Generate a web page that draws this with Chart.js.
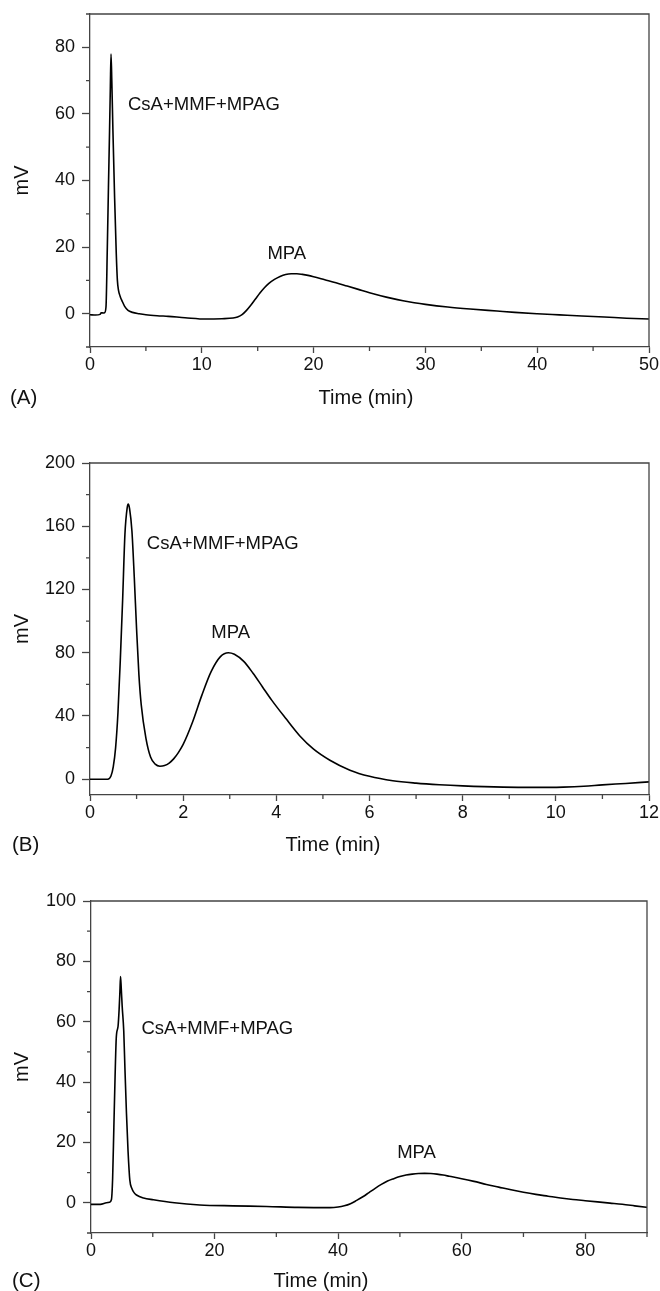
<!DOCTYPE html>
<html>
<head>
<meta charset="utf-8">
<script src="https://cdn.jsdelivr.net/npm/chart.js@4.4.1/dist/chart.umd.min.js"></script>
<style>
  html, body { margin: 0; padding: 0; background: #fff; }
  body { width: 660px; height: 1291px; position: relative; overflow: hidden; }
  canvas { position: absolute; left: 0; }
</style>
</head>
<body>
<canvas id="panelA" width="660" height="420" style="top:0px"></canvas>
<canvas id="panelB" width="660" height="440" style="top:420px"></canvas>
<canvas id="panelC" width="660" height="431" style="top:860px"></canvas>
<script>
// Painel A - corrida de 50 min
const timeA = [0, 0.5, 0.9, 1.0, 1.2, 1.3, 1.43, 1.55, 1.65, 1.75, 1.82, 1.88, 1.95, 2.05, 2.2, 2.35, 2.45, 2.55, 2.7, 2.9, 3.1, 3.4, 3.8, 4.4, 5.0, 6.0, 7.0, 8.5, 10.4, 11.8, 12.8, 13.2, 13.6, 14.0, 14.4, 14.8, 15.2, 15.6, 16.0, 16.5, 17.0, 17.5, 18.0, 18.5, 19.0, 19.5, 20.0, 21.0, 22.0, 23.0, 24.0, 25.0, 26.0, 27.0, 28.0, 29.0, 30.0, 32.0, 34.0, 36.4, 38.0, 40.0, 42.0, 44.0, 46.0, 48.0, 50.0];
const mvA = [-0.3, -0.4, -0.2, 0.3, 0.2, 0.3, 2, 20, 38, 55, 68, 78, 70, 55, 35, 18, 10, 7, 5.2, 3.6, 2.2, 1.0, 0.4, 0, -0.3, -0.6, -0.8, -1.2, -1.6, -1.5, -1.3, -1.0, -0.3, 1.0, 2.6, 4.4, 6.2, 7.8, 9.1, 10.3, 11.2, 11.8, 12.0, 12.0, 11.8, 11.5, 11.1, 10.2, 9.3, 8.3, 7.3, 6.3, 5.4, 4.6, 3.9, 3.3, 2.8, 2.0, 1.4, 0.8, 0.4, 0, -0.35, -0.7, -1.0, -1.35, -1.6];
const xTicksA = [0, 10, 20, 30, 40, 50];
const xMinorA = [5, 15, 25, 35, 45];
const yTicksA = [0, 20, 40, 60, 80];
const yMinorA = [-10, 10, 30, 50, 70, 90];

// Painel B - corrida de 12 min
const timeB = [0, 0.3, 0.38, 0.45, 0.5, 0.55, 0.6, 0.65, 0.7, 0.75, 0.8, 0.82, 0.85, 0.9, 0.95, 1.0, 1.05, 1.1, 1.2, 1.3, 1.4, 1.5, 1.6, 1.7, 1.8, 1.9, 2.0, 2.2, 2.4, 2.6, 2.8, 2.97, 3.1, 3.3, 3.5, 3.7, 3.9, 4.2, 4.5, 4.8, 5.15, 5.58, 6.0, 6.5, 7.0, 7.5, 8.0, 8.87, 9.5, 10.16, 10.6, 11.0, 11.5, 12.0];
const mvB = [0, 0, 0, 2, 8, 20, 42, 75, 113, 155, 172, 174, 171, 157, 128, 95, 66, 47, 26, 14, 9.5, 8.2, 8.6, 10.2, 13, 17, 22, 36, 53, 68, 77.5, 80, 79, 74.5, 67, 58.5, 50, 38.5, 27.5, 19, 12, 5.7, 1.8, -1, -2.5, -3.5, -4.2, -5, -5.2, -5, -4.5, -3.6, -2.7, -1.7];
const xTicksB = [0, 2, 4, 6, 8, 10, 12];
const xMinorB = [1, 3, 5, 7, 9, 11];
const yTicksB = [0, 40, 80, 120, 160, 200];
const yMinorB = [20, 60, 100, 140, 180];

// Painel C - corrida de 90 min
const timeC = [0, 1.5, 2.5, 3.0, 3.3, 3.5, 3.7, 3.9, 4.1, 4.38, 4.55, 4.68, 4.78, 4.9, 5.05, 5.3, 5.5, 5.74, 6.0, 6.28, 6.6, 7.0, 7.36, 8.5, 10.1, 13.5, 17.6, 23, 28.4, 33.5, 38.7, 40, 41, 42, 43, 44, 45, 46, 47, 48, 49, 50, 51, 52, 53, 54, 55, 56, 57, 58, 60, 62, 64, 66, 68, 70, 72, 74, 76, 78, 80, 82, 84, 86, 88, 90];
const mvC = [-0.5, -0.5, 0, 0.2, 1, 8, 25, 42, 55, 58.5, 64, 70, 75, 71, 65, 57, 44, 29.7, 17, 7.6, 4.8, 3.3, 2.6, 1.6, 1.0, 0, -0.7, -1.0, -1.2, -1.5, -1.6, -1.4, -1.0, -0.3, 0.8, 2.0, 3.4, 4.8, 6.1, 7.2, 8.0, 8.7, 9.2, 9.5, 9.7, 9.75, 9.7, 9.5, 9.2, 8.8, 8.0, 7.1, 6.1, 5.2, 4.3, 3.5, 2.8, 2.2, 1.6, 1.1, 0.7, 0.3, -0.1, -0.5, -1.0, -1.5];
const xTicksC = [0, 20, 40, 60, 80];
const xMinorC = [10, 30, 50, 70, 90];
const yTicksC = [0, 20, 40, 60, 80, 100];
const yMinorC = [-10, 10, 30, 50, 70, 90];

// Rotulos dos picos (coordenadas em unidades dos eixos)
const peakLabelsA = [
  { text: "CsA+MMF+MPAG", x: 3.4, y: 62.7, align: "left" },
  { text: "MPA", x: 17.6, y: 18, align: "center" },
];
const peakLabelsB = [
  { text: "CsA+MMF+MPAG", x: 1.22, y: 148.6, align: "left" },
  { text: "MPA", x: 3.02, y: 92.7, align: "center" },
];
const peakLabelsC = [
  { text: "CsA+MMF+MPAG", x: 8.17, y: 57.6, align: "left" },
  { text: "MPA", x: 52.7, y: 16.7, align: "center" },
];

const FONT = "'Liberation Sans', Arial, Helvetica, sans-serif";
const AXIS_COLOR = "#444";

// Desenha moldura (topo e direita), marcas menores, rotulos e textos do painel
const panelPlugin = {
  id: "panelExtras",
  afterDraw(chart) {
    const cfg = chart.options.plugins.panelExtras;
    const { ctx, chartArea: a } = chart;
    const xs = chart.scales.x;
    const ys = chart.scales.y;
    ctx.save();
    ctx.strokeStyle = AXIS_COLOR;
    ctx.lineWidth = 1.3;
    ctx.beginPath();
    ctx.moveTo(a.left, a.top);
    ctx.lineTo(a.right, a.top);
    ctx.lineTo(a.right, a.bottom);
    ctx.stroke();

    // marcas menores
    ctx.beginPath();
    cfg.xMinor.forEach(v => {
      const px = xs.getPixelForValue(v);
      ctx.moveTo(px, a.bottom);
      ctx.lineTo(px, a.bottom + 4);
    });
    cfg.yMinor.forEach(v => {
      const py = ys.getPixelForValue(v);
      ctx.moveTo(a.left, py);
      ctx.lineTo(a.left - 4, py);
    });
    ctx.stroke();

    // rotulos dos picos
    ctx.fillStyle = "#111";
    ctx.font = "18.5px " + FONT;
    ctx.textBaseline = "middle";
    cfg.labels.forEach(l => {
      ctx.textAlign = l.align;
      ctx.fillText(l.text, xs.getPixelForValue(l.x), ys.getPixelForValue(l.y));
    });

    // titulo do eixo x e letra do painel
    ctx.font = "20px " + FONT;
    ctx.textAlign = "center";
    ctx.fillText("Time (min)", cfg.titleX, cfg.titleY);
    ctx.textAlign = "left";
    ctx.font = "20.5px " + FONT;
    ctx.fillText(cfg.letter, cfg.letterX, cfg.titleY);
    ctx.restore();
  },
};

function criarPainel(id, opts) {
  const ctx = document.getElementById(id).getContext("2d");
  const pontos = opts.time.map((t, i) => ({ x: t, y: opts.mv[i] }));
  return new Chart(ctx, {
    type: "line",
    data: {
      datasets: [{
        data: pontos,
        borderColor: "#000",
        borderWidth: 1.6,
        pointRadius: 0,
        cubicInterpolationMode: "monotone",
        fill: false,
      }],
    },
    options: {
      responsive: false,
      animation: false,
      devicePixelRatio: 1,
      layout: { padding: { top: opts.padTop, right: opts.padRight, left: 0, bottom: 0 } },
      plugins: {
        legend: { display: false },
        tooltip: { enabled: false },
        panelExtras: {
          xMinor: opts.xMinor,
          yMinor: opts.yMinor,
          labels: opts.labels,
          letter: opts.letter,
          letterX: opts.letterX,
          titleX: opts.titleX,
          titleY: opts.titleY,
        },
      },
      scales: {
        x: {
          type: "linear",
          min: opts.xMin,
          max: opts.xMax,
          afterBuildTicks: s => { s.ticks = opts.xTicks.map(v => ({ value: v })); },
          afterFit: s => { s.height = opts.xHeight; s.paddingLeft = 0; s.paddingRight = 0; },
          grid: { drawOnChartArea: false, drawTicks: true, tickLength: 6, tickColor: AXIS_COLOR, tickWidth: 1.3 },
          border: { display: true, color: AXIS_COLOR, width: 1.3 },
          ticks: { color: "#111", font: { family: FONT, size: 18 }, padding: 1, maxRotation: 0, autoSkip: false },
        },
        y: {
          type: "linear",
          min: opts.yMin,
          max: opts.yMax,
          afterBuildTicks: s => { s.ticks = opts.yTicks.map(v => ({ value: v })); },
          afterFit: s => { s.width = opts.yWidth; s.paddingTop = 0; s.paddingBottom = 0; },
          grid: { drawOnChartArea: false, drawTicks: true, tickLength: 8, tickColor: AXIS_COLOR, tickWidth: 1.3 },
          border: { display: true, color: AXIS_COLOR, width: 1.3 },
          ticks: { color: "#111", font: { family: FONT, size: 18 }, padding: 7, autoSkip: false },
          title: { display: true, text: "mV", color: "#111", font: { family: FONT, size: 20 }, padding: { top: 10, bottom: 0 } },
        },
      },
    },
    plugins: [panelPlugin],
  });
}

criarPainel("panelA", {
  time: timeA, mv: mvA, xTicks: xTicksA, xMinor: xMinorA, yTicks: yTicksA, yMinor: yMinorA,
  xMin: 0, xMax: 50, yMin: -10, yMax: 90,
  padTop: 14, padRight: 11, yWidth: 90, xHeight: 73,
  labels: peakLabelsA, letter: "(A)", letterX: 10, titleX: 366, titleY: 398,
});

criarPainel("panelB", {
  time: timeB, mv: mvB, xTicks: xTicksB, xMinor: xMinorB, yTicks: yTicksB, yMinor: yMinorB,
  xMin: 0, xMax: 12, yMin: -10, yMax: 200,
  padTop: 43, padRight: 11, yWidth: 90, xHeight: 65,
  labels: peakLabelsB, letter: "(B)", letterX: 12, titleX: 333, titleY: 425,
});

criarPainel("panelC", {
  time: timeC, mv: mvC, xTicks: xTicksC, xMinor: xMinorC, yTicks: yTicksC, yMinor: yMinorC,
  xMin: 0, xMax: 90, yMin: -10, yMax: 100,
  padTop: 41, padRight: 13, yWidth: 91, xHeight: 58,
  labels: peakLabelsC, letter: "(C)", letterX: 12, titleX: 321, titleY: 421,
});
</script>
</body>
</html>
